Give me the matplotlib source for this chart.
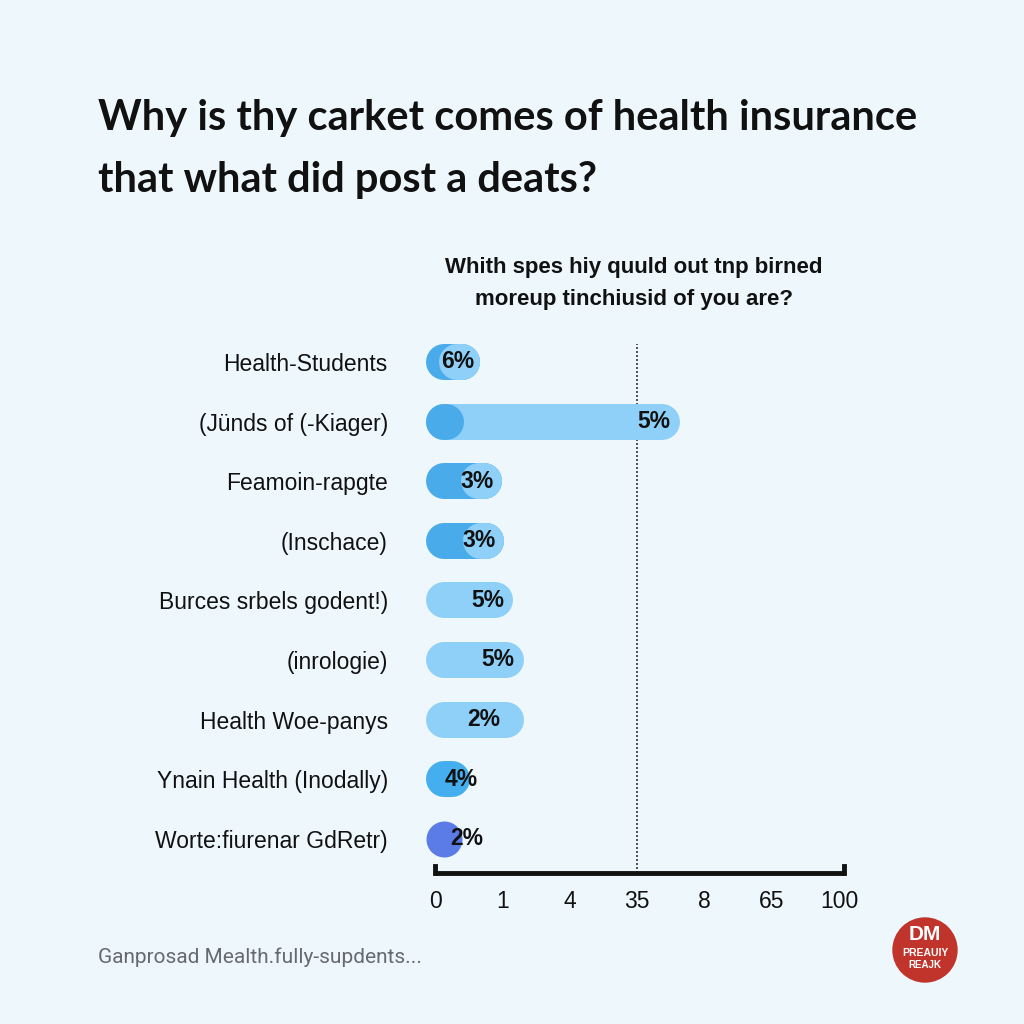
import matplotlib
matplotlib.use("Agg")
import matplotlib.pyplot as plt
from matplotlib.patches import Circle

# ---------------- data ----------------
categories = [
    "Health-Students",
    "(Jünds of (-Kiager)",
    "Feamoin-rapgte",
    "(Inschace)",
    "Burces srbels godent!)",
    "(inrologie)",
    "Health Woe-panys",
    "Ynain Health (Inodally)",
    "Worte:fiurenar GdRetr)",
]
bar_ends = [0.67, 3.64, 1.00, 1.03, 1.16, 1.32, 1.32, 0.52, 0.40]
value_labels = ["6%", "5%", "3%", "3%", "5%", "5%", "2%", "4%", "2%"]
tick_labels = ["0", "1", "4", "35", "8", "65", "100"]
ref_line_tick = "35"

# ---------------- styles ----------------
styles = ["right_light", "left_dark", "right_light", "right_light",
          "light", "light", "light", "mid", "purple"]
label_x = [0.33, 3.25, 0.63, 0.65, 0.79, 0.94, 0.73, 0.39, 0.47]

BG = "#eef8fc"
LIGHT = "#8fd0f8"
DARK = "#4aabeb"
MID = "#45aeee"
PURPLE = "#5b7ce6"
TXT = "#111111"
FONT = "Liberation Sans"

W = H = 1024
fig = plt.figure(figsize=(10.24, 10.24), dpi=100, facecolor=BG)

ax_left, ax_right = 435, 839
ax_top, ax_bot = 332, 873
ax = fig.add_axes([ax_left / W, 1 - ax_bot / H, (ax_right - ax_left) / W, (ax_bot - ax_top) / H])
ax.set_facecolor("none")
row0, rowstep = 362, 59.6
ax.set_xlim(0, 6)
ax.set_ylim((ax_bot - row0) / rowstep, -(row0 - ax_top) / rowstep)

px_per_unit = (ax_right - ax_left) / 6.0
bar_h_px = 36
r = (bar_h_px / 2) / px_per_unit
lw_pt = bar_h_px * 72 / 100
left_edge = -9 / px_per_unit

def capsule(x0, x1, y, color, z):
    s = x0 + r
    e = x1 - r
    if e - s < 0.02:
        ax.scatter([(s + max(e, s)) / 2], [y], s=lw_pt ** 2, color=color,
                   marker="o", linewidths=0, clip_on=False, zorder=z)
    else:
        ax.plot([s, e], [y, y], color=color, lw=lw_pt, solid_capstyle="round",
                clip_on=False, zorder=z)

for i, (end, st) in enumerate(zip(bar_ends, styles)):
    y = i
    if st == "left_dark":
        capsule(left_edge, end, y, LIGHT, 2)
        capsule(left_edge, left_edge + 2 * r * 1.05, y, DARK, 3)
    elif st == "right_light":
        capsule(left_edge, end, y, DARK, 2)
        capsule(end - 2 * r * 1.15, end, y, LIGHT, 3)
    elif st == "light":
        capsule(left_edge, end, y, LIGHT, 2)
    elif st == "mid":
        capsule(left_edge, end, y, MID, 2)
    elif st == "purple":
        capsule(left_edge, end, y, PURPLE, 2)
    ax.text(label_x[i], y, value_labels[i], ha="center", va="center",
            fontsize=16.5, fontweight="bold", color=TXT, family=FONT, zorder=5,
            clip_on=False)

ax.set_yticks(range(len(categories)))
ax.set_yticklabels(categories, fontsize=16.5, color=TXT, family=FONT)
ax.tick_params(axis="y", length=0, pad=34)

ax.set_xticks(range(len(tick_labels)))
ax.set_xticklabels(tick_labels, fontsize=16.5, color=TXT, family=FONT)
ax.tick_params(axis="x", length=0, pad=12)

for sp in ["top", "right", "left", "bottom"]:
    ax.spines[sp].set_visible(False)
xend = 6.08
ybase = ax.get_ylim()[0]
ax.plot([0, xend], [ybase] * 2, color="#111111", lw=3.5, clip_on=False,
        solid_capstyle="butt", zorder=4)
for xx in [0, xend]:
    ax.plot([xx, xx], [ybase, ybase - 0.12], color="#111111",
            lw=3.5, clip_on=False, zorder=4)

xref = tick_labels.index(ref_line_tick)
ax.plot([xref, xref], [ybase, -0.3], color="#333333", lw=1.2,
        linestyle=(0, (1.2, 1.2)), clip_on=False, zorder=1)

# titles
fig.text(98 / W, 1 - 118 / H, "Why is thy carket comes of health insurance",
         fontsize=30, fontweight="bold", color=TXT, family="Lato", va="center", ha="left")
fig.text(98 / W, 1 - 180 / H, "that what did post a deats?",
         fontsize=30, fontweight="bold", color=TXT, family="Lato", va="center", ha="left")

fig.text(634 / W, 1 - 268 / H, "Whith spes hiy quuld out tnp birned",
         fontsize=16, fontweight="bold", color=TXT, family=FONT, va="center", ha="center")
fig.text(634 / W, 1 - 299 / H, "moreup tinchiusid of you are?",
         fontsize=16, fontweight="bold", color=TXT, family=FONT, va="center", ha="center")

fig.text(98 / W, 1 - 957 / H, "Ganprosad Mealth.fully-supdents...",
         fontsize=15, color="#666a6e", family="Roboto", va="center", ha="left")

# logo
logo_ax = fig.add_axes([0, 0, 1, 1], facecolor="none")
logo_ax.set_xlim(0, W)
logo_ax.set_ylim(H, 0)
logo_ax.axis("off")
logo_ax.add_patch(Circle((925, 950), 32, color="#c0342b"))
logo_ax.text(925, 935, "DM", ha="center", va="center", color="white",
             fontsize=15, fontweight="bold", family=FONT)
logo_ax.text(925, 953, "PREAUIY", ha="center", va="center", color="white",
             fontsize=7.5, fontweight="bold", family=FONT)
logo_ax.text(925, 965, "REAJK", ha="center", va="center", color="white",
             fontsize=7, fontweight="bold", family=FONT)

fig.savefig("out.png", dpi=100, facecolor=BG)
